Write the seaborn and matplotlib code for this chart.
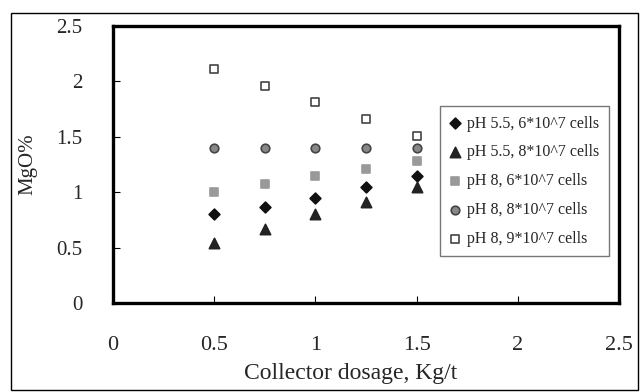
import matplotlib
matplotlib.use("Agg")
import matplotlib.pyplot as plt
import seaborn as sns
import pandas as pd
from matplotlib.patches import Rectangle

# data
dosage = [0.5, 0.75, 1.0, 1.25, 1.5]
ph55_6 = [0.80, 0.87, 0.95, 1.05, 1.15]
ph55_8 = [0.54, 0.67, 0.80, 0.91, 1.05]
ph8_6 = [1.00, 1.07, 1.15, 1.21, 1.28]
ph8_8 = [1.40, 1.40, 1.40, 1.40, 1.40]
ph8_9 = [2.11, 1.96, 1.81, 1.66, 1.51]

labels = ["pH 5.5, 6*10^7 cells", "pH 5.5, 8*10^7 cells", "pH 8, 6*10^7 cells",
          "pH 8, 8*10^7 cells", "pH 8, 9*10^7 cells"]
series = [ph55_6, ph55_8, ph8_6, ph8_8, ph8_9]
ticks = [0, 0.5, 1, 1.5, 2, 2.5]
tick_labels = ["0", "0.5", "1", "1.5", "2", "2.5"]

# marker, size, face, edge
styles = [("D", 30, "#111111", "#111111"),
          ("^", 55, "#222222", "#222222"),
          ("s", 40, "#999999", "#999999"),
          ("o", 38, "#888888", "#444444"),
          ("s", 38, "white", "#444444")]

sns.set_style("white")
plt.rcParams['font.family'] = ['Liberation Serif', 'DejaVu Serif']

fig = plt.figure(figsize=(6.41, 3.92), dpi=100)
ax = fig.add_axes([0.1763, 0.227, 0.7894, 0.7067])

for lab, vals, (m, s, fc, ec) in zip(labels, series, styles):
    df = pd.DataFrame({"x": dosage, "y": vals})
    sns.scatterplot(data=df, x="x", y="y", marker=m, s=s, color=fc,
                    edgecolor=ec, linewidth=1.2, label=lab, ax=ax)

ax.set_xlim(0, 2.5)
ax.set_ylim(0, 2.5)
ax.set_xticks(ticks)
ax.set_xticklabels(tick_labels)
ax.set_yticks(ticks)
ax.set_yticklabels(tick_labels)
ax.tick_params(axis="both", direction="in", length=5, width=0.8, color="black",
               bottom=True, left=True)
ax.tick_params(axis="x", pad=24, labelsize=16)
ax.tick_params(axis="y", pad=22, labelsize=15)
ax.set_xlabel("Collector dosage, Kg/t", fontsize=17)
ax.xaxis.set_label_coords(0.47, -0.215)
ax.set_ylabel("MgO%", fontsize=15, labelpad=14)

for sp in ax.spines.values():
    sp.set_visible(True)
    sp.set_color("black")
    sp.set_linewidth(2.4)

leg = ax.legend(loc="upper left", bbox_to_anchor=(0.646, 0.711), borderaxespad=0,
                fontsize=11.5, frameon=True, fancybox=False, edgecolor="#555555",
                handletextpad=0.4, labelspacing=0.8, handlelength=0.7,
                borderpad=0.6)
leg.get_frame().set_linewidth(1.0)

fig.patches.append(Rectangle((0.017, 0.005), 0.978, 0.962, transform=fig.transFigure,
                             fill=False, edgecolor="black", linewidth=1.0))

fig.savefig("out.png", dpi=100)
